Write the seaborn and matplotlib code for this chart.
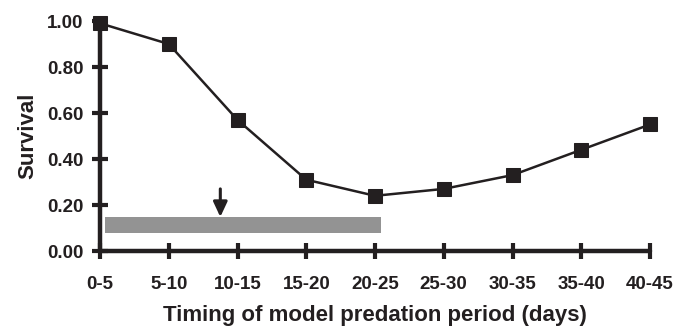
import matplotlib
matplotlib.use("Agg")
import matplotlib.pyplot as plt
import seaborn as sns
import pandas as pd

# Survival for each timing of the model predation period
periods = ["0-5", "5-10", "10-15", "15-20", "20-25", "25-30", "30-35", "35-40", "40-45"]
survival = [0.99, 0.90, 0.57, 0.31, 0.24, 0.27, 0.33, 0.44, 0.55]
y_ticks = [0.0, 0.2, 0.4, 0.6, 0.8, 1.0]
y_tick_labels = ["0.00", "0.20", "0.40", "0.60", "0.80", "1.00"]

# Shaded window (period index range, survival range) and arrow position
window_start, window_end = 0.07, 4.08
window_low, window_high = 0.079, 0.148
arrow_pos = 1.75
arrow_top, arrow_tip = 0.27, 0.148

sns.set_theme(style="ticks")
plt.rcParams["font.family"] = ["Liberation Sans", "DejaVu Sans"]
plt.rcParams["font.weight"] = "bold"

df = pd.DataFrame({"pos": range(len(periods)), "survival": survival})

fig = plt.figure(figsize=(6.88, 3.27), dpi=100)
ax = fig.add_axes([100 / 688, 1 - 251 / 327, 550 / 688, 230 / 327])

ax.fill_between([window_start, window_end], window_low, window_high,
                color="#939393", linewidth=0, zorder=1)
ax.annotate("", xy=(arrow_pos, arrow_tip), xytext=(arrow_pos, arrow_top),
            arrowprops=dict(arrowstyle="-|>,head_width=0.35,head_length=0.75",
                            color="#231f20", lw=2.2, shrinkA=0, shrinkB=0),
            zorder=3)

sns.lineplot(data=df, x="pos", y="survival", ax=ax, color="#231f20",
             linewidth=1.8, marker="s", markersize=9.5,
             markeredgecolor="#231f20", markerfacecolor="#231f20",
             zorder=4, clip_on=False)

ax.set_xlim(0, len(periods) - 1)
ax.set_ylim(0, 1.0)
ax.set_xticks(range(len(periods)))
ax.set_xticklabels(periods)
ax.set_yticks(y_ticks)
ax.set_yticklabels(y_tick_labels)

for side in ("top", "right"):
    ax.spines[side].set_visible(False)
for side in ("left", "bottom"):
    ax.spines[side].set_linewidth(3.2)
    ax.spines[side].set_color("#231f20")
    ax.spines[side].set_capstyle("round")

ax.tick_params(axis="both", direction="inout", length=12, width=3,
               color="#231f20", labelsize=13.5, labelcolor="#231f20")
ax.tick_params(axis="x", pad=12)
ax.tick_params(axis="y", pad=6)
for lab in ax.get_xticklabels() + ax.get_yticklabels():
    lab.set_fontweight("bold")

ax.set_xlabel("Timing of model predation period (days)", fontsize=16,
              fontweight="bold", color="#231f20", labelpad=9)
ax.set_ylabel("Survival", fontsize=16, fontweight="bold",
              color="#231f20", labelpad=6)
ax.patch.set_alpha(0)

fig.savefig("out.png", dpi=100)
